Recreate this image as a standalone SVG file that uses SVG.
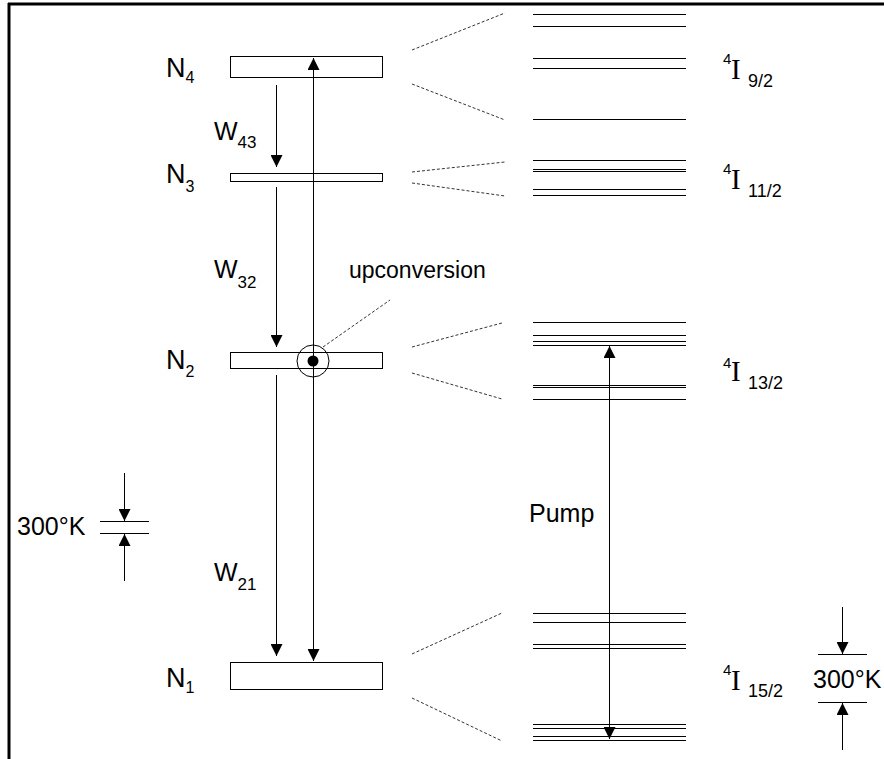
<svg xmlns="http://www.w3.org/2000/svg" width="884" height="759" viewBox="0 0 884 759">
<style>
  .box{fill:#fff;stroke:#000;stroke-width:1}
  .lvl{stroke:#000;stroke-width:1;fill:none}
  .fan{stroke:#333;stroke-width:1;stroke-dasharray:3 2;fill:none}
  .arr{stroke:#000;stroke-width:1;fill:none}
  .lbl{font-family:"Liberation Sans",Arial,sans-serif;fill:#000}
  .serif{font-family:"Liberation Serif","Times New Roman",serif;fill:#000}
</style>
<defs>
  <marker id="ah" viewBox="0 0 12 12" refX="12" refY="6" markerWidth="12" markerHeight="12" markerUnits="userSpaceOnUse" orient="auto-start-reverse">
    <path d="M0,0 L12,6 L0,12 z" fill="#000"/>
  </marker>
</defs>
<rect width="884" height="759" fill="#fff"/>
<g id="frame">
  <line x1="9" y1="3" x2="9" y2="759" stroke="#000" stroke-width="3"/>
  <line x1="8" y1="4" x2="884" y2="4" stroke="#000" stroke-width="3"/>
</g>

<g id="N4">
  <rect class="box" x="230.5" y="56.5" width="152" height="21"/>
  <text class="lbl" x="166" y="77" font-size="27">N<tspan font-size="16" dy="6">4</tspan></text>
</g>
<g id="N3">
  <rect class="box" x="230.5" y="173.5" width="152" height="8"/>
  <text class="lbl" x="166" y="183" font-size="27">N<tspan font-size="16" dy="9">3</tspan></text>
</g>
<g id="N2">
  <rect class="box" x="230.5" y="352.5" width="152" height="16"/>
  <text class="lbl" x="166" y="369" font-size="27">N<tspan font-size="16" dy="8">2</tspan></text>
</g>
<g id="N1">
  <rect class="box" x="230.5" y="662.5" width="152" height="27"/>
  <text class="lbl" x="166" y="687" font-size="27">N<tspan font-size="16" dy="6">1</tspan></text>
</g>

<g id="upconversion">
  <circle cx="313" cy="361" r="16" fill="none" stroke="#000" stroke-width="1"/>
  <circle cx="313" cy="361" r="5.5" fill="#000"/>
  <line class="fan" x1="323" y1="347" x2="390" y2="300"/>
  <text class="lbl" x="349" y="278" font-size="23">upconversion</text>
</g>

<g id="connectors">
  <line class="arr" x1="276.5" y1="85" x2="276.5" y2="167" marker-end="url(#ah)"/>
  <line class="arr" x1="276.5" y1="187" x2="276.5" y2="347" marker-end="url(#ah)"/>
  <line class="arr" x1="276.5" y1="375" x2="276.5" y2="656" marker-end="url(#ah)"/>
  <line class="arr" x1="313.5" y1="58" x2="313.5" y2="661" marker-start="url(#ah)" marker-end="url(#ah)"/>
  <line class="arr" x1="609.5" y1="346" x2="609.5" y2="739" marker-start="url(#ah)" marker-end="url(#ah)"/>
</g>

<g id="rates">
  <text class="lbl" x="214" y="140" font-size="25">W<tspan font-size="17" dy="8">43</tspan></text>
  <text class="lbl" x="214" y="278" font-size="25">W<tspan font-size="17" dy="10">32</tspan></text>
  <text class="lbl" x="214" y="581" font-size="25">W<tspan font-size="17" dy="9">21</tspan></text>
  <text class="lbl" x="529" y="522" font-size="25">Pump</text>
</g>

<g id="I9_2">
  <line class="fan" x1="412" y1="50" x2="505" y2="13"/>
  <line class="fan" x1="412" y1="84" x2="505" y2="120"/>
  <line class="lvl" x1="533" y1="14.5" x2="686" y2="14.5"/>
  <line class="lvl" x1="533" y1="26.5" x2="686" y2="26.5"/>
  <line class="lvl" x1="533" y1="58.5" x2="686" y2="58.5"/>
  <line class="lvl" x1="533" y1="68.5" x2="686" y2="68.5"/>
  <line class="lvl" x1="533" y1="119.5" x2="686" y2="119.5"/>
  <text class="lbl" x="723" y="64" font-size="15">4</text>
  <text class="serif" x="731" y="79" font-size="29">I</text>
  <text class="lbl" x="748" y="87" font-size="18">9/2</text>
</g>
<g id="I11_2">
  <line class="fan" x1="412" y1="172" x2="505" y2="162"/>
  <line class="fan" x1="412" y1="183" x2="505" y2="196"/>
  <line class="lvl" x1="533" y1="160.5" x2="686" y2="160.5"/>
  <line class="lvl" x1="533" y1="169.5" x2="686" y2="169.5"/>
  <line class="lvl" x1="533" y1="171.5" x2="686" y2="171.5"/>
  <line class="lvl" x1="533" y1="189.5" x2="686" y2="189.5"/>
  <line class="lvl" x1="533" y1="195.5" x2="686" y2="195.5"/>
  <text class="lbl" x="723" y="174" font-size="15">4</text>
  <text class="serif" x="731" y="189" font-size="29">I</text>
  <text class="lbl" x="748" y="197" font-size="18">11/2</text>
</g>
<g id="I13_2">
  <line class="fan" x1="412" y1="347" x2="502" y2="323"/>
  <line class="fan" x1="412" y1="373" x2="502" y2="399"/>
  <line class="lvl" x1="533" y1="322.5" x2="686" y2="322.5"/>
  <line class="lvl" x1="533" y1="335.5" x2="686" y2="335.5"/>
  <line class="lvl" x1="533" y1="341.5" x2="686" y2="341.5"/>
  <line class="lvl" x1="533" y1="345.5" x2="686" y2="345.5"/>
  <line class="lvl" x1="533" y1="385.5" x2="686" y2="385.5"/>
  <line class="lvl" x1="533" y1="387.5" x2="686" y2="387.5"/>
  <line class="lvl" x1="533" y1="399.5" x2="686" y2="399.5"/>
  <text class="lbl" x="723" y="368" font-size="15">4</text>
  <text class="serif" x="731" y="381" font-size="29">I</text>
  <text class="lbl" x="748" y="389" font-size="18">13/2</text>
</g>
<g id="I15_2">
  <line class="fan" x1="412" y1="654" x2="502" y2="613"/>
  <line class="fan" x1="412" y1="698" x2="502" y2="741"/>
  <line class="lvl" x1="533" y1="613.5" x2="686" y2="613.5"/>
  <line class="lvl" x1="533" y1="622.5" x2="686" y2="622.5"/>
  <line class="lvl" x1="533" y1="644.5" x2="686" y2="644.5"/>
  <line class="lvl" x1="533" y1="648.5" x2="686" y2="648.5"/>
  <line class="lvl" x1="533" y1="724.5" x2="686" y2="724.5"/>
  <line class="lvl" x1="533" y1="728.5" x2="686" y2="728.5"/>
  <line class="lvl" x1="533" y1="736.5" x2="686" y2="736.5"/>
  <line class="lvl" x1="533" y1="740.5" x2="686" y2="740.5"/>
  <text class="lbl" x="723" y="675" font-size="15">4</text>
  <text class="serif" x="731" y="690" font-size="29">I</text>
  <text class="lbl" x="748" y="697" font-size="18">15/2</text>
</g>

<g id="scale-left">
  <text class="lbl" x="17" y="535" font-size="25">300°K</text>
  <line class="lvl" x1="100" y1="521.5" x2="149" y2="521.5"/>
  <line class="lvl" x1="100" y1="533.5" x2="149" y2="533.5"/>
  <line class="arr" x1="124.5" y1="473" x2="124.5" y2="521" marker-end="url(#ah)"/>
  <line class="arr" x1="124.5" y1="581" x2="124.5" y2="534" marker-end="url(#ah)"/>
</g>
<g id="scale-right">
  <text class="lbl" x="813" y="688" font-size="25">300°K</text>
  <line class="lvl" x1="818" y1="654.5" x2="867" y2="654.5"/>
  <line class="lvl" x1="818" y1="702.5" x2="867" y2="702.5"/>
  <line class="arr" x1="842.5" y1="607" x2="842.5" y2="654" marker-end="url(#ah)"/>
  <line class="arr" x1="842.5" y1="750" x2="842.5" y2="703" marker-end="url(#ah)"/>
</g>
</svg>
